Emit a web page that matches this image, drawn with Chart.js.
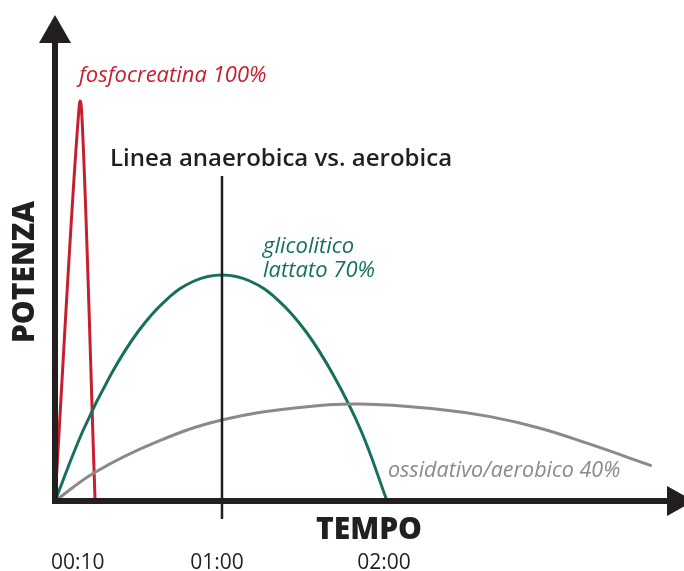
<!DOCTYPE html>
<html>
<head>
<meta charset="utf-8">
<script src="https://cdn.jsdelivr.net/npm/chart.js@4/dist/chart.umd.min.js"></script>
<style>
  html, body { margin: 0; padding: 0; background: #fff; }
  canvas { display: block; }
</style>
</head>
<body>
<canvas id="energyChart" width="684" height="571"></canvas>
<script>
// time in seconds, power in relative units
const redTime = [0, 8.5, 9, 9.6, 14.4];
const redPower = [0, 97, 100, 97, 0];

const greenTime = [0, 10, 20, 30, 40, 50, 60, 70, 80, 90, 100, 110, 119.3];
const greenPower = [0, 17.5, 31.5, 42.5, 50.3, 55, 56.5, 55, 50.3, 42.5, 31.5, 17.5, 0];

const grayTime = [0, 14.4, 35.9, 59.9, 88, 109.6, 138.3, 156.3, 174.3, 192.2, 214.4];
const grayPower = [0, 7.2, 14.6, 20.25, 23.4, 24.25, 22.9, 21.1, 18.2, 14.2, 8.8];

const splitTime = [60, 60];
const splitPower = [81.25, -4.5];

const tickTimes = [10, 60, 120];
const tickLabels = ['00:10', '01:00', '02:00'];

const ink = '#231f20';
const red = '#c4202f';
const green = '#17705f';
const gray = '#8a8a8a';

const pts = (xs, ys) => xs.map((x, i) => ({ x, y: ys[i] }));

const line = (label, xs, ys, color, width, mode) => ({
  label,
  data: pts(xs, ys),
  borderColor: color,
  borderWidth: width,
  pointRadius: 0,
  fill: false,
  cubicInterpolationMode: mode || 'default',
  tension: 0.4,
  clip: false,
});

const axesPlugin = {
  id: 'axes',
  afterDatasetsDraw(chart) {
    const { ctx, chartArea, scales } = chart;
    const x0 = chartArea.left;
    const y0 = chartArea.bottom;
    ctx.save();
    ctx.fillStyle = ink;
    ctx.strokeStyle = ink;
    ctx.lineWidth = 6;
    ctx.lineCap = 'butt';

    // y axis
    ctx.beginPath();
    ctx.moveTo(x0, y0 + 3);
    ctx.lineTo(x0, 42);
    ctx.stroke();
    ctx.beginPath();
    ctx.moveTo(x0, 15);
    ctx.lineTo(x0 - 16, 43);
    ctx.lineTo(x0 + 16, 43);
    ctx.closePath();
    ctx.fill();

    // x axis
    ctx.beginPath();
    ctx.moveTo(x0 - 3, y0);
    ctx.lineTo(668, y0);
    ctx.stroke();
    ctx.beginPath();
    ctx.moveTo(694, y0);
    ctx.lineTo(667, y0 - 15);
    ctx.lineTo(667, y0 + 15);
    ctx.closePath();
    ctx.fill();

    // axis titles
    ctx.font = '800 30px "Open Sans"';
    ctx.textAlign = 'center';
    ctx.textBaseline = 'alphabetic';
    ctx.fillText('TEMPO', 369, 539);
    ctx.save();
    ctx.translate(34, 272);
    ctx.rotate(-Math.PI / 2);
    ctx.fillText('POTENZA', 0, 0);
    ctx.restore();

    // tick labels
    ctx.font = '400 21px "Open Sans"';
    tickTimes.forEach((t, i) => {
      ctx.fillText(tickLabels[i], scales.x.getPixelForValue(t) - 5, 569);
    });

    // title
    ctx.font = '600 24px "Open Sans"';
    ctx.fillText('Linea anaerobica vs. aerobica', 281, 166);

    // series notes
    ctx.textAlign = 'left';
    ctx.font = 'italic 400 22px "Open Sans"';
    ctx.fillStyle = red;
    ctx.fillText('fosfocreatina 100%', 79, 82);
    ctx.fillStyle = green;
    ctx.fillText('glicolitico', 263, 253);
    ctx.fillText('lattato 70%', 263, 277);
    ctx.font = 'italic 400 21.5px "Open Sans"';
    ctx.fillStyle = gray;
    ctx.fillText('ossidativo/aerobico 40%', 388, 477);
    ctx.restore();
  },
};

new Chart(document.getElementById('energyChart'), {
  type: 'line',
  data: {
    datasets: [
      line('split', splitTime, splitPower, ink, 2.5),
      line('ossidativo', grayTime, grayPower, gray, 3),
      line('glicolitico', greenTime, greenPower, green, 3),
      line('fosfocreatina', redTime, redPower, red, 3, 'monotone'),
    ],
  },
  options: {
    responsive: false,
    animation: false,
    layout: { padding: { left: 55, right: 0, top: 15, bottom: 70 } },
    plugins: {
      legend: { display: false },
      tooltip: { enabled: false },
    },
    scales: {
      x: { type: 'linear', min: 0, max: 226, display: false },
      y: { min: 0, max: 121.5, display: false },
    },
  },
  plugins: [axesPlugin],
});
</script>
</body>
</html>
